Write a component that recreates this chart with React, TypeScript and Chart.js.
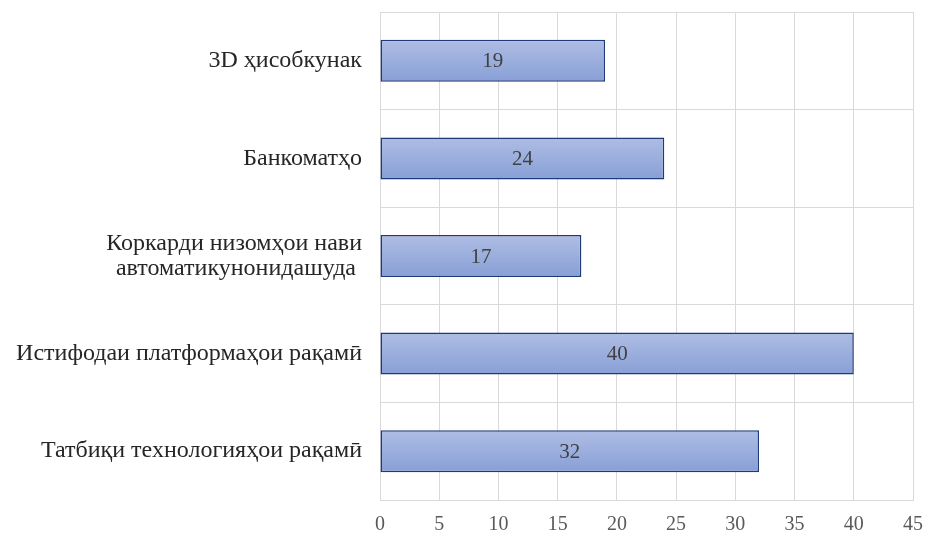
import React, { useEffect, useRef } from "react";
import { Chart, registerables } from "chart.js";

Chart.register(...registerables);

const categories: (string | string[])[] = [
  "3D ҳисобкунак",
  "Банкоматҳо",
  ["Коркарди низомҳои нави", "автоматикунонидашуда "],
  "Истифодаи платформаҳои рақамӣ",
  "Татбиқи технологияҳои рақамӣ",
];
const values = [19, 24, 17, 40, 32];
const xMin = 0;
const xMax = 45;
const xStep = 5;

const FONT = "'Liberation Serif', 'Times New Roman', serif";
const BAR_HALF = 21;

const labelPlugin = {
  id: "barLabels",
  afterDatasetsDraw(chart: any) {
    const ctx = chart.ctx;
    const meta = chart.getDatasetMeta(0);
    ctx.save();
    ctx.font = `21px ${FONT}`;
    ctx.fillStyle = "#404040";
    ctx.textAlign = "center";
    ctx.textBaseline = "middle";
    meta.data.forEach((el: any, i: number) => {
      const cx = (el.x + el.base) / 2;
      ctx.fillText(String(values[i]), cx, el.y + 1);
    });
    ctx.restore();
  },
};

export default function App() {
  const ref = useRef<HTMLCanvasElement>(null);
  useEffect(() => {
    if (!ref.current) return;
    const chart = new Chart(ref.current, {
      type: "bar",
      data: {
        labels: categories,
        datasets: [
          {
            data: values,
            backgroundColor: (c: any) => {
              const ch = c.chart;
              const ys = ch.scales && ch.scales.y;
              if (!ys || !ch.chartArea || c.dataIndex === undefined) return "#9aaedd";
              const cy = ys.getPixelForValue(c.dataIndex);
              if (!isFinite(cy)) return "#9aaedd";
              const g = ch.ctx.createLinearGradient(0, cy - BAR_HALF, 0, cy + BAR_HALF);
              g.addColorStop(0, "#aebde4");
              g.addColorStop(1, "#889fd6");
              return g;
            },
            borderColor: "#1f3a78",
            borderWidth: 1.5,
            borderSkipped: false,
            barPercentage: 0.43,
            categoryPercentage: 1,
          },
        ],
      },
      options: {
        indexAxis: "y",
        animation: false,
        responsive: true,
        maintainAspectRatio: false,
        layout: { padding: { top: 12, right: 15, left: 0, bottom: 0 } },
        plugins: { legend: { display: false }, tooltip: { enabled: false } },
        scales: {
          x: {
            min: xMin,
            max: xMax,
            ticks: {
              stepSize: xStep,
              font: { family: FONT, size: 20 },
              color: "#595959",
              padding: 13,
            },
            grid: { color: "#d9d9d9", lineWidth: 1, drawTicks: false },
            border: { color: "#d9d9d9" },
            afterFit: (s: any) => {
              s.height = 40;
              s.paddingLeft = 0;
              s.paddingRight = 0;
            },
          },
          y: {
            ticks: {
              font: { family: FONT, size: 24, lineHeight: "25px" },
              color: "#262626",
              padding: 18,
            },
            grid: { color: "#d9d9d9", lineWidth: 1, drawTicks: false, offset: true },
            border: { color: "#d9d9d9" },
            afterFit: (s: any) => {
              s.width = 380;
              s.paddingTop = 0;
              s.paddingBottom = 0;
            },
          },
        },
      },
      plugins: [labelPlugin],
    } as any);
    return () => chart.destroy();
  }, []);
  return (
    <div style={{ position: "absolute", left: 0, top: 0, width: 928, height: 540, background: "#fff" }}>
      <canvas ref={ref} />
    </div>
  );
}
